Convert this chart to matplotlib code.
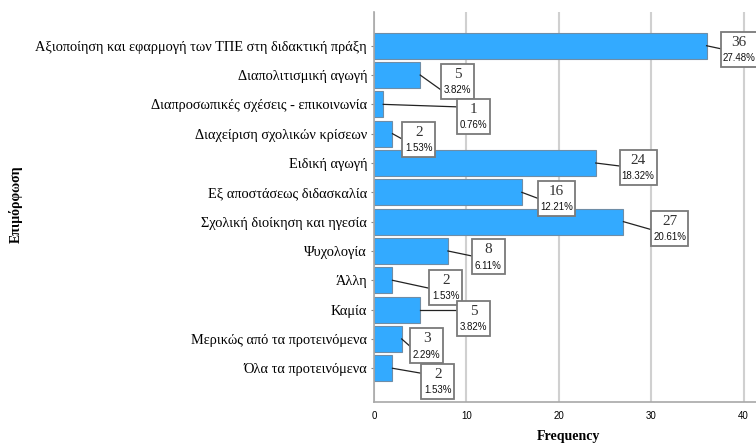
import matplotlib.pyplot as plt
import matplotlib.transforms as mtransforms
from matplotlib.patches import Rectangle

# categories and counts
categorias = [
    "Αξιοποίηση και εφαρμογή των ΤΠΕ στη διδακτική πράξη",
    "Διαπολιτισμική αγωγή",
    "Διαπροσωπικές σχέσεις - επικοινωνία",
    "Διαχείριση σχολικών κρίσεων",
    "Ειδική αγωγή",
    "Εξ αποστάσεως διδασκαλία",
    "Σχολική διοίκηση και ηγεσία",
    "Ψυχολογία",
    "Άλλη",
    "Καμία",
    "Μερικώς από τα προτεινόμενα",
    "Όλα τα προτεινόμενα",
]
frecuencias = [36, 5, 1, 2, 24, 16, 27, 8, 2, 5, 3, 2]
porcentajes = ["27.48%", "3.82%", "0.76%", "1.53%", "18.32%", "12.21%",
               "20.61%", "6.11%", "1.53%", "3.82%", "2.29%", "1.53%"]

# label box placement (pixels from bar end): box left, box centre dy, leader end dy
caja_dx = [14, 21, 74, 10, 24, 16, 28, 24, 37, 37, 8.5, 29]
caja_dy = [4, 6, 12, 6, 4, 6, 7, 6, 7, 9, 7, 13]
linea_dy = [3, 15, 2.5, 5.5, 3, 6, 8, 5, 8, 0, 7.5, 5]

W, H = 756, 444
fig = plt.figure(figsize=(W / 100, H / 100), dpi=100)
ax = fig.add_axes([374 / W, 1 - 401.7 / H, (762 - 374) / W, (401.7 - 12) / H])

y = list(range(len(categorias)))
ax.barh(y, frecuencias, height=0.89, color="#33aaff", edgecolor="#6f8da6", linewidth=0.8, zorder=2)

ax.set_xlim(0, 42)
ax.set_ylim(11 + 1.14, -1.15)
ax.set_xticks([0, 10, 20, 30, 40])
ax.set_xticklabels(["0", "10", "20", "30", "40"], fontsize=7, family="Liberation Sans")
ax.set_yticks(y)
ax.set_yticklabels(categorias, fontsize=10.4, family="Liberation Serif")
ax.tick_params(axis="y", length=2, pad=3, color="#888888")
ax.tick_params(axis="x", length=0, pad=7)
ax.grid(axis="x", color="#d0d0d0", linewidth=1.5, zorder=0)
for s in ["top", "right"]:
    ax.spines[s].set_visible(False)
for s in ["left", "bottom"]:
    ax.spines[s].set_color("#a8a8a8")
    ax.spines[s].set_linewidth(1.2)

fig.text(568 / W, 1 - 436 / H, "Frequency", ha="center", va="center",
         fontsize=10, family="Liberation Serif", fontweight="bold")
fig.text(16 / W, 1 - 204 / H, "Επιμόρφωση", rotation=90, ha="center", va="center",
         fontsize=10, family="Liberation Serif", fontweight="bold")

# value boxes
for i, v in enumerate(frecuencias):
    trans = fig.dpi_scale_trans + mtransforms.ScaledTranslation(v, i, ax.transData)
    ancho = 37 if len(porcentajes[i]) > 5 else 33
    izq = caja_dx[i] / 100
    cy = -caja_dy[i] / 100
    ax.plot([0, izq], [0, -linea_dy[i] / 100], color="#222222", linewidth=0.9,
            transform=trans, clip_on=False, zorder=3)
    ax.add_patch(Rectangle((izq, cy - 0.175), ancho / 100, 0.35, transform=trans,
                           facecolor="white", edgecolor="#7a7a7a", linewidth=1.3,
                           clip_on=False, zorder=4))
    ax.text(izq + ancho / 200, cy + 0.07, str(v), transform=trans, ha="center", va="center",
            fontsize=11, family="Liberation Serif", color="#333333", zorder=5)
    ax.text(izq + ancho / 200, cy - 0.087, porcentajes[i], transform=trans, ha="center",
            va="center", fontsize=7, family="Liberation Sans", color="#111111", zorder=5)

fig.savefig("out.png", dpi=100)
